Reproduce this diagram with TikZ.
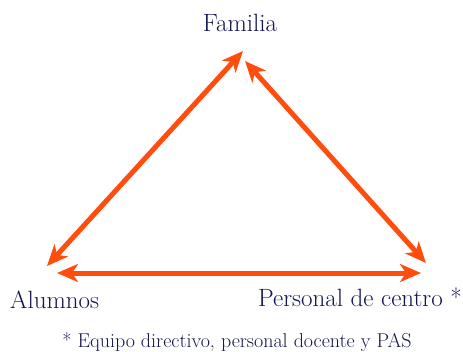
\documentclass[tikz,border=0pt]{standalone}
\usepackage{tikz}
\usetikzlibrary{arrows.meta}
\usepackage{xcolor}
\definecolor{naranja}{HTML}{FF4D0D}
\definecolor{marino}{HTML}{141452}

\begin{document}
\begin{tikzpicture}[x=1pt, y=-1pt,
    flecha/.style={naranja, line width=5pt,
        {Stealth[length=21pt, width=18pt, inset=6pt]}-{Stealth[length=21pt, width=18pt, inset=6pt]}},
    etiqueta/.style={text=marino, inner sep=0pt, font=\fontsize{25}{28}\selectfont},
    nota/.style={text=marino, inner sep=0pt, font=\fontsize{20}{23}\selectfont}]
    \useasboundingbox (0,0) rectangle (463,351);
    % Etiquetas
    \node[etiqueta, anchor=base] (familia) at (240,31) {Familia};
    \node[etiqueta, anchor=base west] (alumnos) at (10,308) {Alumnos};
    \node[etiqueta, anchor=base east] (personal) at (462,306) {Personal de centro *};
    \node[nota, anchor=base] (nota) at (237,347) {* Equipo directivo, personal docente y PAS};
    % Vertices
    \coordinate (fam-a) at (243,51);
    \coordinate (fam-p) at (245,61);
    \coordinate (alu-f) at (47,266);
    \coordinate (alu-p) at (57,273);
    \coordinate (per-f) at (426,263);
    \coordinate (per-a) at (421,273);
    % Flechas
    \draw[flecha] (alu-f) -- (fam-a);
    \draw[flecha] (fam-p) -- (per-f);
    \draw[flecha] (alu-p) -- (per-a);
\end{tikzpicture}
\end{document}
